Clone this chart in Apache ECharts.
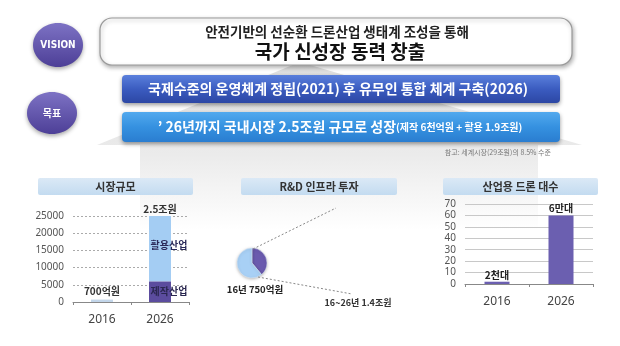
<!DOCTYPE html>
<html><head><meta charset="utf-8">
<script src="https://cdn.jsdelivr.net/npm/echarts@6/dist/echarts.min.js"></script>
<style>html,body{margin:0;padding:0;background:#fff}#c{width:620px;height:346px}</style>
</head><body><div id="c"></div>
<script>
// ---- data ----
var marketCategories = ['2016', '2026'];
var market2016 = [700, null];
var makingIndustry = [null, 6000];
var usingIndustry = [null, 19000];
var marketTicks = [0, 5000, 10000, 15000, 20000, 25000];
var marketLabels = ['700억원', '2.5조원'];

var rdShares = [39, 61];
var rdLabels = ['16년 750억원', '16~26년 1.4조원'];

var droneCategories = ['2016', '2026'];
var droneValues = [2, 60];
var droneLabels = ['2천대', '6만대'];

var KR = '"Noto Sans CJK KR", "Noto Sans", sans-serif';
var chart = echarts.init(document.getElementById('c'));
var LG = echarts.graphic.LinearGradient;

function titleBox(x, w, text) {
  return [
    {type:'rect', shape:{x:x, y:178, width:w, height:17, r:2}, style:{fill:new LG(0,0,0,1,[{offset:0,color:'#dbe9f6'},{offset:1,color:'#c3dbf0'}])}, z:1},
    {type:'text', style:{text:text, x:x + w/2, y:186.5, textAlign:'center', textVerticalAlign:'middle', font:'bold 11px ' + KR, fill:'#333'}, z:2}
  ];
}

var graphics = [
  // house-like gray background
  {type:'polygon', shape:{points:[[300,62],[582,145],[538,145],[538,230],[140,230],[140,145],[97,145]]},
   style:{fill:new LG(0,0,0,1,[{offset:0,color:'#dedede'},{offset:0.55,color:'#ebebeb'},{offset:1,color:'#ffffff'}])}, z:0},
  // VISION circle
  {type:'ellipse', shape:{cx:58, cy:45, rx:25, ry:22}, style:{fill:new LG(0,0,0,1,[{offset:0,color:'#7d72c4'},{offset:1,color:'#4d3f97'}]), shadowBlur:4, shadowColor:'rgba(0,0,0,0.35)', shadowOffsetY:2}, z:3},
  {type:'text', style:{text:'VISION', x:58, y:45, textAlign:'center', textVerticalAlign:'middle', font:'bold 10px "DejaVu Sans Condensed", sans-serif', fill:'#fff'}, z:4},
  // 목표 circle
  {type:'ellipse', shape:{cx:52, cy:113, rx:25, ry:21}, style:{fill:new LG(0,0,0,1,[{offset:0,color:'#7d72c4'},{offset:1,color:'#4d3f97'}]), shadowBlur:4, shadowColor:'rgba(0,0,0,0.35)', shadowOffsetY:2}, z:3},
  {type:'text', style:{text:'목표', x:52, y:113, textAlign:'center', textVerticalAlign:'middle', font:'bold 10px ' + KR, fill:'#fff'}, z:4},
  // vision box
  {type:'rect', shape:{x:100, y:18, width:472, height:47, r:12}, style:{fill:'#fff', stroke:'#9a9a9a', lineWidth:1.2, shadowBlur:4, shadowColor:'rgba(0,0,0,0.3)', shadowOffsetY:2, shadowOffsetX:1}, z:3},
  {type:'text', style:{text:'안전기반의 선순환 드론산업 생태계 조성을 통해', x:337, y:32, textAlign:'center', textVerticalAlign:'middle', font:'bold 13.5px ' + KR, fill:'#222'}, z:4},
  {type:'text', style:{text:'국가 신성장 동력 창출', x:340, y:52, textAlign:'center', textVerticalAlign:'middle', font:'bold 19px ' + KR, fill:'#111'}, z:4},
  // dark blue bar
  {type:'rect', shape:{x:122, y:75, width:438, height:28, r:4}, style:{fill:new LG(0,0,0,1,[{offset:0,color:'#5a7fdc'},{offset:0.5,color:'#3b5cc0'},{offset:1,color:'#2c47a4'}]), shadowBlur:4, shadowColor:'rgba(0,0,0,0.4)', shadowOffsetY:2}, z:3},
  {type:'text', style:{text:'국제수준의 운영체계 정립(2021) 후 유무인 통합 체계 구축(2026)', x:338, y:89, textAlign:'center', textVerticalAlign:'middle', font:'bold 14px ' + KR, fill:'#fff'}, z:4},
  // light blue bar
  {type:'rect', shape:{x:122, y:112, width:438, height:30, r:4}, style:{fill:new LG(0,0,0,1,[{offset:0,color:'#52a9ee'},{offset:0.5,color:'#3591e0'},{offset:1,color:'#2a7dd0'}]), shadowBlur:4, shadowColor:'rgba(0,0,0,0.4)', shadowOffsetY:2}, z:3},
  {type:'text', style:{text:'{a|\u2019 26년까지 국내시장 2.5조원 규모로 성장}{b|(제작 6천억원 + 활용 1.9조원)}', x:340, y:127, textAlign:'center', textVerticalAlign:'middle',
     rich:{a:{font:'bold 14px ' + KR, fill:'#fff'}, b:{font:'bold 10px ' + KR, fill:'#fff'}}}, z:4},
  // note
  {type:'text', style:{text:'참고: 세계시장(29조원)의 8.5% 수준', x:551, y:152, textAlign:'right', textVerticalAlign:'middle', font:'7px ' + KR, fill:'#777'}, z:4},
  // pie leader lines
  {type:'line', shape:{x1:253, y1:249, x2:336, y2:208}, style:{stroke:'#888', lineWidth:1, lineDash:[2,2]}, z:4},
  {type:'line', shape:{x1:258, y1:277, x2:352, y2:294}, style:{stroke:'#888', lineWidth:1, lineDash:[2,2]}, z:4},
  {type:'text', style:{text:rdLabels[0], x:255, y:289, textAlign:'center', textVerticalAlign:'middle', font:'bold 9.5px ' + KR, fill:'#222'}, z:4},
  {type:'text', style:{text:rdLabels[1], x:358, y:303, textAlign:'center', textVerticalAlign:'middle', font:'bold 9px ' + KR, fill:'#333'}, z:4}
].concat(titleBox(38, 155, '시장규모'), titleBox(241, 156, 'R&D 인프라 투자'), titleBox(443, 155, '산업용 드론 대수'));

var axisLab = {color:'#555', fontSize:10, fontFamily:'"Noto Sans", sans-serif', margin:9, formatter:function(v){return String(v);}};
var catLab = {color:'#444', fontSize:12, fontFamily:'"Noto Sans", sans-serif', margin:12};
function lbl(extra) {
  return Object.assign({show:true, fontWeight:'bold', fontSize:10, fontFamily:KR, color:'#333'}, extra);
}

chart.setOption({
  animation:false,
  backgroundColor:'#fff',
  graphic:graphics,
  grid:[
    {left:73, right:431, top:216, bottom:44},
    {left:465, right:27, top:204, bottom:62}
  ],
  xAxis:[
    {type:'category', gridIndex:0, data:marketCategories, axisLine:{lineStyle:{color:'#888'}}, axisTick:{show:true, length:3, lineStyle:{color:'#888'}}, axisLabel:catLab},
    {type:'category', gridIndex:1, data:droneCategories, axisLine:{lineStyle:{color:'#888'}}, axisTick:{show:true, length:3, lineStyle:{color:'#888'}}, axisLabel:catLab}
  ],
  yAxis:[
    {type:'value', gridIndex:0, min:marketTicks[0], max:marketTicks[marketTicks.length-1], interval:5000, axisLine:{show:false}, axisTick:{show:false}, axisLabel:axisLab, splitLine:{lineStyle:{color:'#aaa', type:[2,2]}}},
    {type:'value', gridIndex:1, min:0, max:70, interval:10, axisLine:{show:false}, axisTick:{show:false}, axisLabel:axisLab, splitLine:{lineStyle:{color:'#c8c8c8', type:'solid'}}}
  ],
  series:[
    {type:'bar', xAxisIndex:0, yAxisIndex:0, stack:'m', barWidth:22, data:market2016, itemStyle:{color:'#c3d6ea'},
     label:lbl({position:'top', distance:3, formatter:function(){return marketLabels[0];}})},
    {type:'bar', xAxisIndex:0, yAxisIndex:0, stack:'m', barWidth:22, data:makingIndustry, itemStyle:{color:'#5b4c9e'},
     label:lbl({position:'inside', offset:[9,0], formatter:'제작산업', color:'#2a2750'})},
    {type:'bar', xAxisIndex:0, yAxisIndex:0, stack:'m', barWidth:22, data:usingIndustry, itemStyle:{color:'#a4cdf3'},
     label:lbl({position:'inside', offset:[9,-3], formatter:'활용산업', color:'#2a2a5a'})},
    {type:'bar', xAxisIndex:0, yAxisIndex:0, stack:'m', barWidth:22, data:[null, 0], itemStyle:{color:'transparent'},
     label:lbl({position:'top', distance:2, formatter:function(){return marketLabels[1];}})},
    {type:'pie', center:[252,263], radius:15, startAngle:90, clockwise:true, label:{show:false}, labelLine:{show:false},
     itemStyle:{borderColor:'#dfe9f5', borderWidth:0.5, shadowBlur:3, shadowColor:'rgba(0,0,0,0.25)', shadowOffsetY:1},
     data:[{value:rdShares[0], itemStyle:{color:'#6a5aae'}}, {value:rdShares[1], itemStyle:{color:'#a8d0f5'}}]},
    {type:'bar', xAxisIndex:1, yAxisIndex:1, barWidth:25, data:droneValues, itemStyle:{color:'#6b5fb0'},
     label:lbl({position:'top', distance:2, color:'#222', formatter:function(p){return droneLabels[p.dataIndex];}})}
  ]
});
</script></body></html>
